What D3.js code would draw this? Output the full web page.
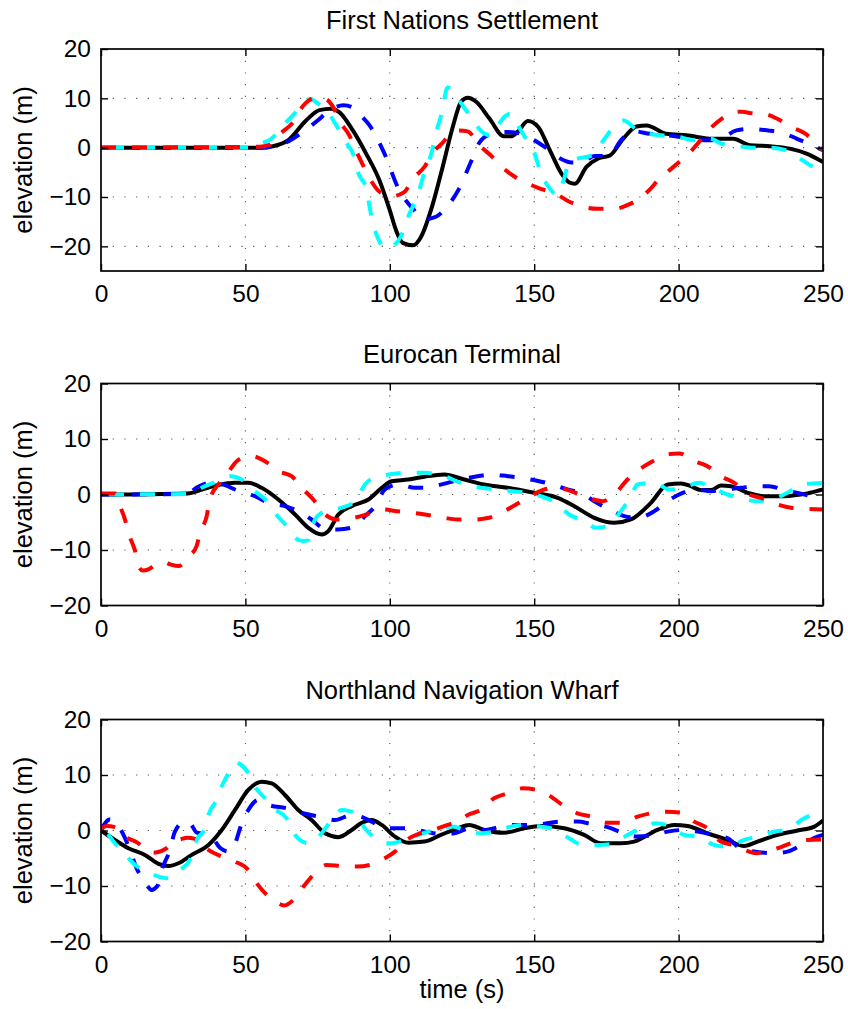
<!DOCTYPE html>
<html lang="en">
<head>
<meta charset="utf-8">
<title>Elevation time series</title>
<script src="https://d3js.org/d3.v7.min.js"></script>
<style>
  body { margin: 0; background: #fff; }
  text { font-family: "Liberation Sans", Arial, Helvetica, sans-serif; fill: #000; }
</style>
</head>
<body>
<script>
// panel titles and axis settings
var titles = ["First Nations Settlement", "Eurocan Terminal", "Northland Navigation Wharf"];
var yDomains = [[-25, 20], [-20, 20], [-20, 20]];
var xTicks = [0, 50, 100, 150, 200, 250];
var yTicks = [-20, -10, 0, 10, 20];

// First Nations Settlement: [time (s), elevation (m)]
var fnsBlack = [[0,0],[55,0],[59.5,0.3],[65,1.6],[71,5.5],[75.6,7.6],[79.7,7.9],[82.5,7.2],[87.2,3.5],[91.8,-1.2],[96.4,-6.6],[100,-12.7],[102.2,-16.8],[104.5,-19.3],[108,-19.8],[110.8,-18.1],[114.9,-11.4],[118.3,-3.9],[121.8,4.2],[124.7,9.3],[127,10.1],[129.9,9.3],[134.5,5.9],[139.5,2.3],[142,2.3],[144.3,3.2],[147.8,5.4],[151.4,4.2],[155.4,-0.5],[159.5,-5.3],[162,-7],[164.1,-7.3],[168.1,-3.9],[172.2,-2.2],[176.2,-1.6],[180.8,1.8],[185.4,4.3],[188.9,4.5],[195.8,2.8],[202.7,2.5],[212,1.8],[218.9,1.8],[224.7,0.5],[231.6,0.3],[238.5,-0.2],[244.3,-1.2],[250,-2.9]];
var fnsBlue = [[0,0],[55,0],[60,0.3],[65,1.3],[70,3.2],[75,5.5],[79,7.5],[84,8.6],[87,8.2],[90,6.5],[93,4.5],[98,-1],[103,-8.3],[108,-12.4],[112,-14.5],[116,-14],[119,-12.5],[124,-8.3],[128,-3],[131,1],[135,2.8],[140,3.2],[144,3],[150,1.5],[154,0],[159,-2.2],[163,-3],[166,-3],[171,-1.7],[176,-1.7],[180,1.5],[185,3.3],[190,2.8],[195,2.6],[200,2.2],[205,1.8],[210,1.5],[214,1.6],[220,3.5],[225,3.8],[231,3.5],[235,3.2],[241,1.8],[245,0.8],[250,-0.5]];
var fnsCyan = [[0,0],[52,0],[55,0.8],[59,1.8],[63,4.5],[67,6.9],[70,9.2],[72.5,9.8],[75,9],[78.5,7.2],[82.5,3.5],[85,1],[87.5,-1.6],[89,-5],[92,-8.5],[93,-12],[94.5,-16],[96,-18.5],[98,-20.2],[100,-20.4],[102,-19.5],[104,-17.8],[106,-14.5],[110,-9],[112,-5],[114.5,-1],[116,3],[118,7],[120,12.2],[122,11.5],[124,9.6],[127.6,6.6],[130,4.5],[133,2.8],[135,2.5],[137.4,4.5],[140,6.4],[142,6.9],[145,3.9],[148,1],[150,-1],[152,-4.6],[155,-8],[158,-9.5],[160.5,-6],[162,-3],[165,-2.2],[170,-1.6],[174,1.5],[178,4.5],[181,5.5],[185,3.9],[190,2.8],[194,2.5],[200,2.2],[205,1.5],[211,1.8],[215,0.8],[221,0.3],[226,0],[232,0],[237,-0.5],[242,-2.2],[246.6,-3.9],[250,-4.6]];
var fnsRed = [[0,0],[55,0.2],[58,0.5],[62,2.8],[67,5.5],[70,8.5],[72,9.6],[75,10.2],[78,9.8],[80,8.6],[83,5],[86,2.5],[88,-0.2],[90.6,-3.4],[93,-6.2],[96,-8.7],[99,-9.6],[101,-9.8],[105,-9],[108,-6.3],[112,-3.9],[115,-0.9],[118,0.8],[121,2.8],[124,3.5],[127,3.3],[131,0.5],[135,-1.6],[139,-4],[143,-5.8],[148,-7.3],[152,-8.3],[157,-9.2],[162,-10.9],[167,-12],[172,-12.4],[178,-12.4],[182,-11.7],[186,-10.5],[190,-8.5],[193,-6.5],[197,-4.5],[200,-3],[204,-0.9],[208,1.8],[211,3.9],[215,5.9],[219,7.2],[222,7.3],[225,7],[230,6.8],[234,5.9],[239,4.2],[244,2.8],[248,0.5],[250,-0.5]];

// Eurocan Terminal
var eurBlack = [[0,0],[30,0.2],[35,0.9],[40.6,1.7],[46.4,2.1],[51,2.1],[55.6,1.2],[61.4,-0.9],[67.2,-3.6],[71.8,-6],[76.4,-7.2],[78.7,-6.6],[82.2,-3.6],[86.8,-2.1],[92.6,-0.9],[97.2,1.2],[100.6,2.4],[106.4,2.7],[112,3.2],[118.8,3.6],[125.8,2.7],[132.7,1.8],[140.8,1.2],[150,0.3],[158.1,-0.6],[163.9,-2.1],[170.8,-4.2],[177.7,-5.1],[183.5,-4.5],[190.4,-1.5],[196.2,1.8],[200.8,2],[204.2,1.5],[207.7,0.8],[211.2,0.8],[214.6,1.6],[218.1,1.5],[223.9,0.3],[229.6,-0.3],[236.6,-0.3],[244.6,0.2],[250,0.9]];
var eurBlue = [[0,0],[30,0.1],[33,1.2],[37.7,2.1],[42.4,1.8],[46.4,0.9],[50,0.2],[53.3,-0.3],[57.9,-1.5],[63.7,-2.1],[68.3,-3],[72.9,-4.5],[77.6,-6.2],[82,-6.3],[88,-5.8],[91.4,-3.9],[94.9,-2.1],[98.3,0.9],[103,1.8],[108.7,1.2],[112,1.2],[120,2.1],[124.6,2.7],[130.4,3.3],[135,3.6],[140.8,3.3],[145.4,3],[151.7,2.4],[156.3,1.8],[161.5,0.9],[166.2,0.3],[170.8,-1.2],[176,-2.7],[181.2,-3.9],[185.8,-4.2],[191.6,-3],[196.2,-1.2],[201.4,0.3],[206,0.9],[211.2,0.6],[215.8,0.9],[221.6,1.2],[226.2,1.5],[231.4,1.5],[236,0.9],[241.2,0.3],[247,-0.3],[250,-0.3]];
var eurCyan = [[0,0],[30,0.1],[36,1.5],[39,2.1],[42,2.8],[45,3.3],[48.7,2.7],[53.3,0.6],[57.9,-1.5],[60.2,-3.3],[64.3,-5.7],[67.2,-7.8],[70,-8.4],[71.8,-8.2],[74.1,-4.5],[77.6,-3],[83.3,-2.4],[88,-1.2],[91.4,1.8],[96,3.3],[99.5,3.6],[105.3,3.9],[112,3.9],[118.8,3.3],[124.6,2.1],[131.5,1.2],[137.3,0.9],[142.5,0.6],[147.7,0.3],[152.3,-0.3],[157.5,-1.5],[162.1,-3.6],[167.3,-4.8],[171.4,-6],[175.4,-5.7],[180,-3],[183.5,-0.3],[185.8,1.8],[191.6,2.1],[196.7,0.9],[201.4,1.2],[207.1,2.1],[211.7,1.2],[216.9,0],[221.6,-0.6],[226.8,-1.2],[232,-0.9],[237.7,0.3],[242.3,1.8],[250,2.1]];
var eurRed = [[0,0.2],[5,0.2],[6.6,-2.1],[8.3,-4.5],[9.5,-6.9],[11.8,-10.2],[13,-12.9],[14.5,-13.7],[16.4,-13.5],[19,-12.6],[21.6,-12.2],[24,-12.6],[26.8,-12.9],[29,-12.2],[30.8,-11],[33.1,-9.3],[34.3,-6.9],[36.6,-3.9],[37.7,-0.9],[40.6,1.8],[43.5,3.6],[47,6],[50,6.8],[52.2,6.9],[56.8,6],[61.4,4.2],[66,3.3],[70.1,0.9],[73.5,-0.9],[77.6,-3.6],[81.6,-4.5],[87.4,-4.2],[92,-3.6],[97.8,-2.7],[102.4,-3],[108.1,-3.3],[112.2,-3.6],[118.8,-4.2],[123.5,-4.5],[129.2,-4.5],[134.4,-4.2],[139.6,-3],[144.8,-1.5],[148.8,-0.3],[153.5,0.9],[158.1,1.2],[162.7,0.6],[168.5,-0.6],[173.7,-1.2],[178.3,0.3],[182.3,2.7],[186.4,4.5],[191,6],[195.6,7.2],[200.2,7.4],[205.4,6],[210,5.1],[214.6,3.3],[219.3,2.1],[224.4,0],[228.5,-0.6],[234.3,-1.8],[238.9,-2.4],[244.6,-2.6],[250,-2.7]];

// Northland Navigation Wharf
var nnwBlack = [[0,0],[4.8,-1.7],[9.5,-3.2],[15.2,-4.4],[19.9,-6],[23.3,-6.4],[26.8,-5.9],[31.4,-4.4],[37.2,-2.6],[41.8,0.1],[46.4,3.7],[51,7.3],[55.6,8.8],[59.1,8.5],[63.7,6.4],[68.3,3.7],[72.9,1.9],[77.6,-0.5],[82.2,-1.2],[86.8,0.1],[90.3,1.4],[93.7,1.9],[97.2,1],[101.8,-1.1],[106.4,-2.2],[112,-2],[117.7,-0.8],[123.5,0.4],[127.5,1],[132.7,0.1],[139.6,-0.4],[146.5,0.4],[152.3,0.8],[160.4,0.4],[167.3,-0.8],[173.1,-2.3],[180,-2.3],[184.6,-2],[192.7,0.1],[198.5,1],[203.1,0.8],[210,-0.5],[216.9,-1.7],[222.7,-2.8],[227.3,-2],[234.3,-0.8],[241.2,0],[247,0.7],[250,1.8]];
var nnwBlue = [[0,0],[3,2],[5,1.5],[8,-1],[10,-3.5],[12.5,-7],[15,-9],[17.5,-10.7],[19.5,-10],[21,-7.1],[23.9,-3.5],[25.6,-0.2],[29,1.6],[31,1.2],[33.2,-0.4],[37.7,-0.8],[41.2,-3.1],[44,-3.8],[45.7,-3.3],[47.6,-0.5],[48.7,1.3],[51,3.7],[54.5,5.5],[58,4.6],[64.3,4],[70,3.1],[75.3,2.5],[81,1.9],[86.8,2.8],[91.4,2.2],[96,1],[99.5,0.4],[106.4,0.4],[112.2,-0.2],[118.8,-0.7],[122.3,-0.5],[128,0.4],[132.7,0.1],[138.5,0.7],[143,1],[150,1],[159,1.6],[165,1.6],[169.6,1.2],[174.8,0.7],[181.2,-0.5],[185.8,-1.1],[191.6,-0.8],[196.2,-0.2],[202,0.1],[206.6,-0.2],[212.3,-0.8],[217,-1.4],[222.1,-3.5],[226.2,-3.8],[232.5,-4.1],[237.7,-3.8],[243.5,-2.3],[248.1,-1.1],[250,-0.8]];
var nnwCyan = [[0,0],[2,-0.5],[4.8,-2.3],[8,-4],[11,-5.8],[14,-7],[17,-7.7],[20,-8.3],[22.7,-8.6],[25,-8.2],[27.4,-7.1],[30.8,-5.3],[33.1,-1.7],[36,0.4],[37.2,2.8],[40,5.5],[41.5,7.6],[43.5,9.7],[46.4,12.2],[48,12],[51,10.3],[53.3,7.9],[56.8,5.8],[59.7,4],[64.3,2.2],[67.2,-0.8],[71.8,-2.3],[74,-2],[76.4,-0.5],[80.4,2.2],[83.3,3.7],[86,3.5],[88,3.1],[91.4,0.4],[96,-1.7],[100.1,-2.3],[105.3,-1.7],[108.7,-1.1],[112.2,-0.4],[117,0.4],[121.7,0.7],[125.8,0.1],[131.5,-0.5],[136.1,-0.2],[141.9,0.7],[146.5,1],[152.3,0.7],[157.5,0.1],[162.1,-1.4],[166.7,-2.6],[172.5,-2.6],[177.7,-2.3],[182.3,-0.8],[186.9,0.4],[192.1,1.3],[197.3,0.7],[202,-0.8],[207.1,-1.1],[212.3,-2.6],[217,-2.9],[222.7,-1.7],[227.3,-1.1],[233.1,-0.2],[237.7,0.2],[243.5,2.2],[250,3.4]];
var nnwRed = [[0,0.3],[2,0.8],[4.8,0.6],[8.3,-1.1],[12.9,-2.3],[15.5,-3.5],[18,-4],[22.7,-3.2],[25,-2],[27.4,-1.6],[30,-1.3],[32.5,-1.5],[37.2,-3.5],[41.8,-4.7],[46.4,-5.6],[51,-7.1],[53.9,-9.5],[57.4,-11.6],[61,-13],[63.5,-13.5],[66.6,-12.5],[70.1,-10.1],[73.5,-8],[78.1,-6.2],[83.3,-6.4],[88.5,-6.5],[93.1,-6.2],[98.3,-5],[101.8,-3.8],[105.8,-1.7],[110,-0.6],[115,0.1],[120,1],[124,1.8],[127,2.8],[131.5,3.7],[136.1,5.8],[140.8,6.7],[146,7.6],[151.2,7.3],[155.8,6.1],[159.8,4.6],[165,3.1],[169.6,2.5],[175.4,1.4],[180.6,1.4],[185.8,2.5],[190.4,3.1],[195.6,3.4],[200.8,3.2],[205.4,1.6],[210,0.4],[214.6,-2],[218.7,-2.6],[224.4,-3.8],[227,-4.1],[230,-3.8],[234.3,-3.2],[238.9,-2.3],[244.6,-1.7],[250,-1.6]];

var panels = [
  { black: fnsBlack, blue: fnsBlue, cyan: fnsCyan, red: fnsRed },
  { black: eurBlack, blue: eurBlue, cyan: eurCyan, red: eurRed },
  { black: nnwBlack, blue: nnwBlue, cyan: nnwCyan, red: nnwRed }
];

// layout
var W = 848, H = 1009;
var left = 101, right = 823, plotH = 222;
var tops = [49, 383.5, 719.5];

var svg = d3.select("body").append("svg")
  .attr("width", W)
  .attr("height", H);

var x = d3.scaleLinear().domain([0, 250]).range([left, right]);

// draw order: solid black underneath, dashed on top
var styles = [
  { key: "black", color: "#000000", dash: null, offset: 0 },
  { key: "blue", color: "#0000ff", dash: "15,16", offset: 0 },
  { key: "cyan", color: "#00ffff", dash: "15,16", offset: -8 },
  { key: "red", color: "#ff0000", dash: "15,16", offset: 0 }
];

panels.forEach(function(p, i) {
  var top = tops[i];
  var y = d3.scaleLinear().domain(yDomains[i]).range([top + plotH, top]);
  var g = svg.append("g");

  g.append("clipPath").attr("id", "clip" + i)
    .append("rect")
    .attr("x", left).attr("y", top)
    .attr("width", right - left).attr("height", plotH);

  // dotted grid
  g.selectAll(".vgrid").data(xTicks.slice(1, -1)).enter()
    .append("line")
    .attr("x1", function(d) { return x(d); }).attr("x2", function(d) { return x(d); })
    .attr("y1", top).attr("y2", top + plotH)
    .attr("stroke", "#555").attr("stroke-width", 1.1)
    .attr("stroke-dasharray", "1.2,10.5");
  g.selectAll(".hgrid").data(yTicks.filter(function(d) { return y(d) > top + 1; })).enter()
    .append("line")
    .attr("x1", left).attr("x2", right)
    .attr("y1", function(d) { return y(d); }).attr("y2", function(d) { return y(d); })
    .attr("stroke", "#555").attr("stroke-width", 1.1)
    .attr("stroke-dasharray", "1.2,10.5");

  // series
  var line = d3.line()
    .x(function(d) { return x(d[0]); })
    .y(function(d) { return y(d[1]); })
    .curve(d3.curveMonotoneX);

  styles.forEach(function(s) {
    g.append("path")
      .datum(p[s.key])
      .attr("clip-path", "url(#clip" + i + ")")
      .attr("d", line)
      .attr("fill", "none")
      .attr("stroke", s.color)
      .attr("stroke-width", 4)
      .attr("stroke-linejoin", "round")
      .attr("stroke-dasharray", s.dash)
      .attr("stroke-dashoffset", s.offset);
  });

  // axes with inward ticks on every side
  var fmt = function(d) { return d < 0 ? "\u2212" + Math.abs(d) : d; };
  var bottom = d3.axisBottom(x).tickValues(xTicks).tickSize(-7).tickPadding(14).tickFormat(fmt);
  var leftAx = d3.axisLeft(y).tickValues(yTicks).tickSize(-7).tickPadding(10).tickFormat(fmt);
  var topAx = d3.axisTop(x).tickValues(xTicks).tickSize(-7).tickFormat("");
  var rightAx = d3.axisRight(y).tickValues(yTicks).tickSize(-7).tickFormat("");

  var axes = [
    g.append("g").attr("transform", "translate(0," + (top + plotH) + ")").call(bottom),
    g.append("g").attr("transform", "translate(" + left + ",0)").call(leftAx),
    g.append("g").attr("transform", "translate(0," + top + ")").call(topAx),
    g.append("g").attr("transform", "translate(" + right + ",0)").call(rightAx)
  ];
  axes.forEach(function(a) {
    a.select(".domain").remove();
    a.selectAll("line").attr("stroke", "#000").attr("stroke-width", 1.4);
    a.selectAll("text")
      .style("font-family", "'Liberation Sans', Arial, sans-serif")
      .style("font-size", "24.5px")
      .attr("fill", "#000");
  });
  axes[0].selectAll("text").attr("dy", "0.71em");

  // axis box
  g.append("rect")
    .attr("x", left).attr("y", top)
    .attr("width", right - left).attr("height", plotH)
    .attr("fill", "none").attr("stroke", "#000").attr("stroke-width", 1.7);

  // title
  g.append("text")
    .attr("x", (left + right) / 2).attr("y", top - 20.5)
    .attr("text-anchor", "middle")
    .style("font-size", "25.5px")
    .text(titles[i]);

  // y label
  g.append("text")
    .attr("transform", "translate(32," + (top + plotH / 2) + ") rotate(-90)")
    .attr("text-anchor", "middle")
    .style("font-size", "25.5px")
    .text("elevation (m)");
});

// x label
svg.append("text")
  .attr("x", (left + right) / 2).attr("y", 998)
  .attr("text-anchor", "middle")
  .style("font-size", "25.5px")
  .text("time (s)");
</script>
</body>
</html>
